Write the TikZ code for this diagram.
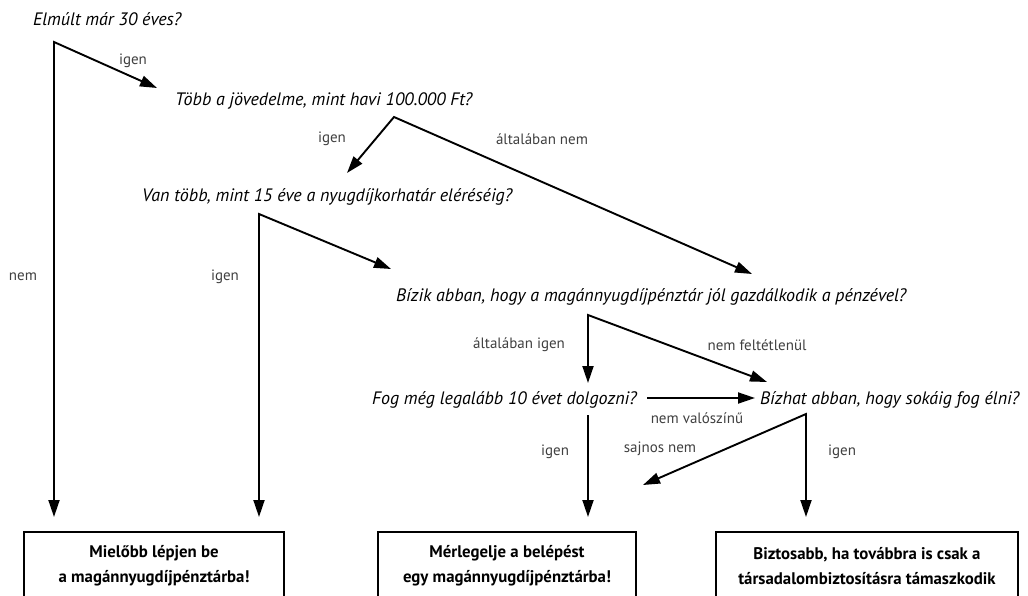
\documentclass[tikz,border=0pt]{standalone}
\usepackage{fontspec}
\setmainfont{PT Sans}
\usetikzlibrary{arrows.meta}
\begin{document}
\begin{tikzpicture}[x=1pt,y=-1pt,
  q/.style={font=\fontsize{18}{21}\selectfont\itshape, anchor=base west, inner sep=0pt},
  lbl/.style={font=\fontsize{15}{18}\selectfont, text=black!75, inner sep=0pt},
  res/.style={draw, line width=1.2pt, font=\fontsize{16.8}{25}\selectfont\bfseries, align=center, inner sep=0pt, minimum height=68pt},
  arr/.style={line width=1.9pt, -{Triangle[length=17pt,width=11pt]}},
  arr2/.style={line width=1.9pt, {Triangle[length=17pt,width=11pt]}-{Triangle[length=17pt,width=11pt]}}]
\useasboundingbox (0,0) rectangle (1028,596);
\clip (0,0) rectangle (1028,596);

% questions
\node[q] (q1) at (33,26) {Elmúlt már 30 éves?};
\node[q] (q2) at (175,106) {Több a jövedelme, mint havi 100.000 Ft?};
\node[q] (q3) at (142,202) {Van több, mint 15 éve a nyugdíjkorhatár eléréséig?};
\node[q] (q4) at (396,301) {Bízik abban, hogy a magánnyugdíjpénztár jól gazdálkodik a pénzével?};
\node[q] (q5) at (372,404) {Fog még legalább 10 évet dolgozni?};
\node[q] (q6) at (760,404) {Bízhat abban, hogy sokáig fog élni?};

% results
\node[res, minimum width=260pt] (r1) at (154,566) {Mielőbb lépjen be\\a magánnyugdíjpénztárba!};
\node[res, minimum width=258pt] (r2) at (507,566) {Mérlegelje a belépést\\egy magánnyugdíjpénztárba!};
\node[res, minimum width=302pt] (r3) at (867,566) {Biztosabb, ha továbbra is csak a\\társadalombiztosításra támaszkodik};

% corners and arrow ends
\coordinate (c1) at (54,42);
\coordinate (e1a) at (54,517);
\coordinate (e1b) at (157,88);
\coordinate (c2) at (394,117);
\coordinate (e2a) at (347,173);
\coordinate (e2b) at (752,274);
\coordinate (c3) at (259,214);
\coordinate (e3a) at (259,517);
\coordinate (e3b) at (391,269);
\coordinate (c4) at (588,315);
\coordinate (e4a) at (588,383);
\coordinate (e4b) at (767,382);
\coordinate (s5) at (647,398);
\coordinate (e5) at (755,398);
\coordinate (s6) at (588,415);
\coordinate (e6) at (588,517);
\coordinate (c7) at (806,414);
\coordinate (e7a) at (643,485);
\coordinate (e7b) at (806,517);

\draw[arr2] (e1a) -- (c1) -- (e1b);
\draw[arr2] (e2a) -- (c2) -- (e2b);
\draw[arr2] (e3a) -- (c3) -- (e3b);
\draw[arr2] (e4a) -- (c4) -- (e4b);
\draw[arr] (s5) -- (e5);
\draw[arr] (s6) -- (e6);
\draw[arr2] (e7a) -- (c7) -- (e7b);

% labels
\node[lbl] (l1) at (133,61) {igen};
\node[lbl] (l2) at (23,277) {nem};
\node[lbl] (l3) at (332,139) {igen};
\node[lbl] (l4) at (542,139) {általában nem};
\node[lbl] (l5) at (225,277) {igen};
\node[lbl] (l6) at (519,345) {általában igen};
\node[lbl] (l7) at (757,345) {nem feltétlenül};
\node[lbl] (l8) at (697,418) {nem valószínű};
\node[lbl] (l9) at (555,452) {igen};
\node[lbl] (l10) at (660,449) {sajnos nem};
\node[lbl] (l11) at (842,452) {igen};
\end{tikzpicture}
\end{document}
